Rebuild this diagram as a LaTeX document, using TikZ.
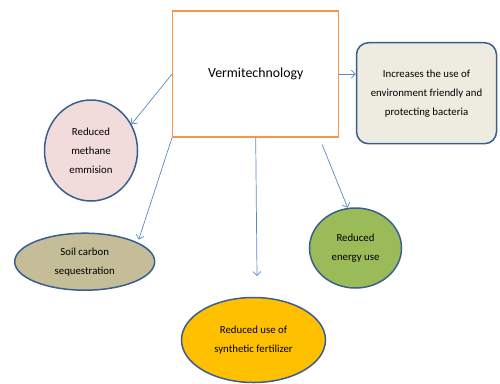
\documentclass[tikz,border=0pt]{standalone}
\usepackage{fontspec}
\setmainfont{Carlito}
\usetikzlibrary{shapes.geometric, arrows.meta}
\usepackage{color}

\definecolor{arrowblue}{HTML}{5A8AC6}
\definecolor{rimblue}{HTML}{3A5F8E}
\definecolor{hubline}{HTML}{F79646}
\definecolor{methpink}{HTML}{F2DCDB}
\definecolor{soiltan}{HTML}{C4BD97}
\definecolor{fertyellow}{HTML}{FFC000}
\definecolor{energygreen}{HTML}{9BBB59}
\definecolor{bactgrey}{HTML}{EEECE1}

\begin{document}
\begin{tikzpicture}[x=1pt,y=-1pt,->,>={Straight Barb[length=4pt,width=8pt]},
		        arrowblue,line width=0.7pt,
		        hub/.style={rectangle,draw=hubline,line width=1.5pt,fill=white,text=black,
		            minimum width=166pt,minimum height=126pt,font=\fontsize{13.8}{16}\selectfont},
		        bubble/.style={ellipse,draw=rimblue,line width=1.5pt,inner sep=0pt,text=black,
		            align=center,font=\fontsize{10.8}{19}\selectfont},
		        note/.style={rectangle,rounded corners=12pt,draw=rimblue,line width=1.5pt,
		            fill=bactgrey,text=black,align=center,minimum width=140pt,minimum height=101pt,
		            font=\fontsize{10.8}{19}\selectfont}]
		        
		        \useasboundingbox (0,0) rectangle (500,383);
		        
		        \node[hub] (vermi) at (255.7,74.2) {Vermitechnology};
		        \node[note] (bact) at (426.5,93.2) {Increases the use of\\environment friendly and\\protecting bacteria};
		        \node[bubble, fill=methpink, minimum width=93pt, minimum height=101pt] (meth) at (91,150.5) {Reduced\\methane\\emmision};
		        \node[bubble, fill=soiltan, minimum width=140pt, minimum height=57pt] (soil) at (84.7,261.7) {Soil carbon\\sequestration};
		        \node[bubble, fill=fertyellow, minimum width=144pt, minimum height=85pt] (fert) at (253.5,340) {Reduced use of\\synthetic fertilizer};
		        \node[bubble, fill=energygreen, minimum width=92pt, minimum height=80pt] (energy) at (355.5,248) {Reduced\\energy use};
		        \coordinate (fertTip) at (257,276);
		        
		        \path
		        (vermi.west) edge (meth.33)
		        (vermi.south west) edge [shorten >=3pt] (soil.20)
		        (vermi.south) edge (fertTip)
		        ([xshift=-20pt]vermi.south east) edge [shorten <=7pt] (energy.101)
		        (vermi.east) edge (vermi.east -| bact.west)
		        ;
		    \end{tikzpicture}
\end{document}
